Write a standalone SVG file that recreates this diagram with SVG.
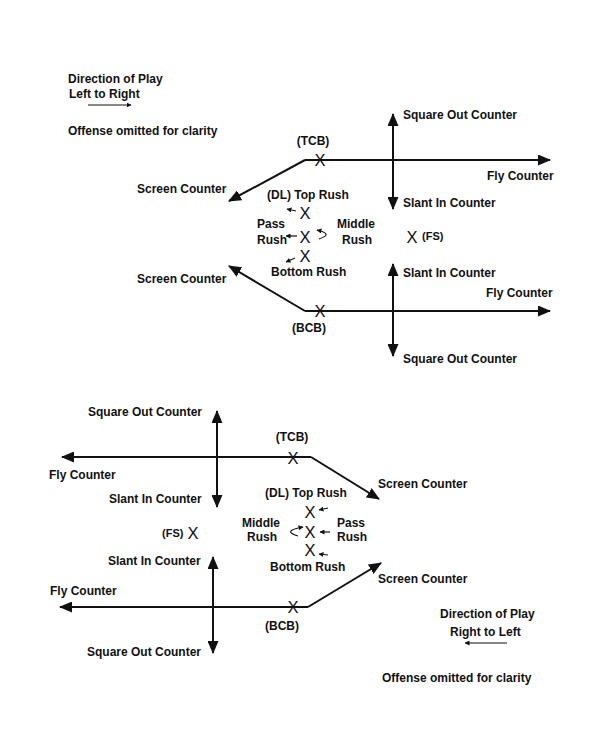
<svg xmlns="http://www.w3.org/2000/svg" width="600" height="748" viewBox="0 0 600 748">
<style>
.t{font-family:"Liberation Sans",Arial,sans-serif;font-weight:bold;font-size:12px;fill:#111}
.s{font-family:"Liberation Sans",Arial,sans-serif;font-weight:bold;font-size:11px;fill:#111}
.x{font-family:"Liberation Sans",Arial,sans-serif;font-weight:normal;font-size:16.5px;fill:#111;text-anchor:middle}
.c{text-anchor:middle}
.ln{stroke:#111;stroke-width:2;fill:none;marker-end:url(#big)}
.sm{stroke:#111;stroke-width:1.2;fill:none;marker-end:url(#small)}
</style>
<defs>
<marker id="big" markerUnits="userSpaceOnUse" markerWidth="13" markerHeight="11" refX="12" refY="5.5" orient="auto">
<path d="M0,0 L13,5.5 L0,11 z" fill="#111"/>
</marker>
<marker id="small" markerUnits="userSpaceOnUse" markerWidth="5" markerHeight="5" refX="4.5" refY="2.5" orient="auto">
<path d="M0,0 L5,2.5 L0,5 z" fill="#111"/>
</marker>
</defs>
<rect width="600" height="748" fill="#fff"/>

<g id="connectors">
<!-- top diagram -->
<path class="ln" d="M305,160 H550"/>
<path class="ln" d="M305,160 L229,201"/>
<path class="ln" d="M393,161 V114"/>
<path class="ln" d="M393,161 V209"/>
<path class="ln" d="M305,311 H550"/>
<path class="ln" d="M305,311 L229,266"/>
<path class="ln" d="M393,311 V264"/>
<path class="ln" d="M393,311 V356"/>
<path class="sm" d="M88,105 H131"/>
<path class="sm" d="M296,211 L287,209"/>
<path class="sm" d="M297,236 L286,236"/>
<path class="sm" d="M295,258 L286,262"/>
<path class="sm" d="M319,239 Q334,234 317,230"/>
<!-- bottom diagram -->
<path class="ln" d="M311,457 H62"/>
<path class="ln" d="M311,457 L379,499"/>
<path class="ln" d="M217,457 V411"/>
<path class="ln" d="M217,457 V507"/>
<path class="ln" d="M308,607 H60"/>
<path class="ln" d="M308,607 L381,563"/>
<path class="ln" d="M213,607 V557"/>
<path class="ln" d="M213,607 V653"/>
<path class="sm" d="M507,643 H465"/>
<path class="sm" d="M328,508 L319,510"/>
<path class="sm" d="M330,532 L320,532"/>
<path class="sm" d="M328,555 L319,554"/>
<path class="sm" d="M298,536 Q281,531 303,527"/>
</g>

<g id="legend-top">
<text class="t" x="68" y="83">Direction of Play</text>
<text class="t" x="69" y="98">Left to Right</text>
<text class="t" x="68" y="135">Offense omitted for clarity</text>
</g>

<g id="tcb-top"><text class="x" x="320" y="166">X</text><text class="t c" x="313" y="145">(TCB)</text></g>
<g id="bcb-top"><text class="x" x="320" y="317">X</text><text class="t c" x="309" y="332">(BCB)</text></g>
<g id="dl-top-top"><text class="x" x="305" y="219">X</text><text class="t" x="267" y="199">(DL) Top Rush</text></g>
<g id="dl-mid-top"><text class="x" x="305" y="243">X</text>
<text class="t" x="257" y="228">Pass</text><text class="t" x="257" y="244">Rush</text>
<text class="t" x="337" y="228">Middle</text><text class="t" x="342" y="244">Rush</text></g>
<g id="dl-bot-top"><text class="x" x="305" y="261.5">X</text><text class="t" x="271" y="276">Bottom Rush</text></g>
<g id="fs-top"><text class="x" x="412" y="243">X</text><text class="s" x="422" y="240">(FS)</text></g>
<g id="labels-top">
<text class="t" x="137" y="193">Screen Counter</text>
<text class="t" x="137" y="283">Screen Counter</text>
<text class="t" x="403" y="119">Square Out Counter</text>
<text class="t" x="487" y="180">Fly Counter</text>
<text class="t" x="403" y="207">Slant In Counter</text>
<text class="t" x="403" y="277">Slant In Counter</text>
<text class="t" x="486" y="297">Fly Counter</text>
<text class="t" x="403" y="363">Square Out Counter</text>
</g>

<g id="tcb-bottom"><text class="x" x="293" y="463.5">X</text><text class="t c" x="292" y="441">(TCB)</text></g>
<g id="bcb-bottom"><text class="x" x="293" y="613">X</text><text class="t c" x="282" y="630">(BCB)</text></g>
<g id="dl-top-bottom"><text class="x" x="310" y="518">X</text><text class="t" x="265" y="497">(DL) Top Rush</text></g>
<g id="dl-mid-bottom"><text class="x" x="310" y="538">X</text>
<text class="t" x="242" y="527">Middle</text><text class="t" x="247" y="541">Rush</text>
<text class="t" x="337" y="527">Pass</text><text class="t" x="337" y="541">Rush</text></g>
<g id="dl-bot-bottom"><text class="x" x="310" y="556">X</text><text class="t" x="270" y="571">Bottom Rush</text></g>
<g id="fs-bottom"><text class="x" x="193" y="539">X</text><text class="s" x="162" y="537">(FS)</text></g>
<g id="labels-bottom">
<text class="t" x="88" y="416">Square Out Counter</text>
<text class="t" x="49" y="479">Fly Counter</text>
<text class="t" x="109" y="503">Slant In Counter</text>
<text class="t" x="378" y="488">Screen Counter</text>
<text class="t" x="108" y="565">Slant In Counter</text>
<text class="t" x="50" y="595">Fly Counter</text>
<text class="t" x="87" y="656">Square Out Counter</text>
<text class="t" x="378" y="583">Screen Counter</text>
</g>
<g id="legend-bottom">
<text class="t" x="440" y="618">Direction of Play</text>
<text class="t" x="450" y="636">Right to Left</text>
<text class="t" x="382" y="682">Offense omitted for clarity</text>
</g>
</svg>
